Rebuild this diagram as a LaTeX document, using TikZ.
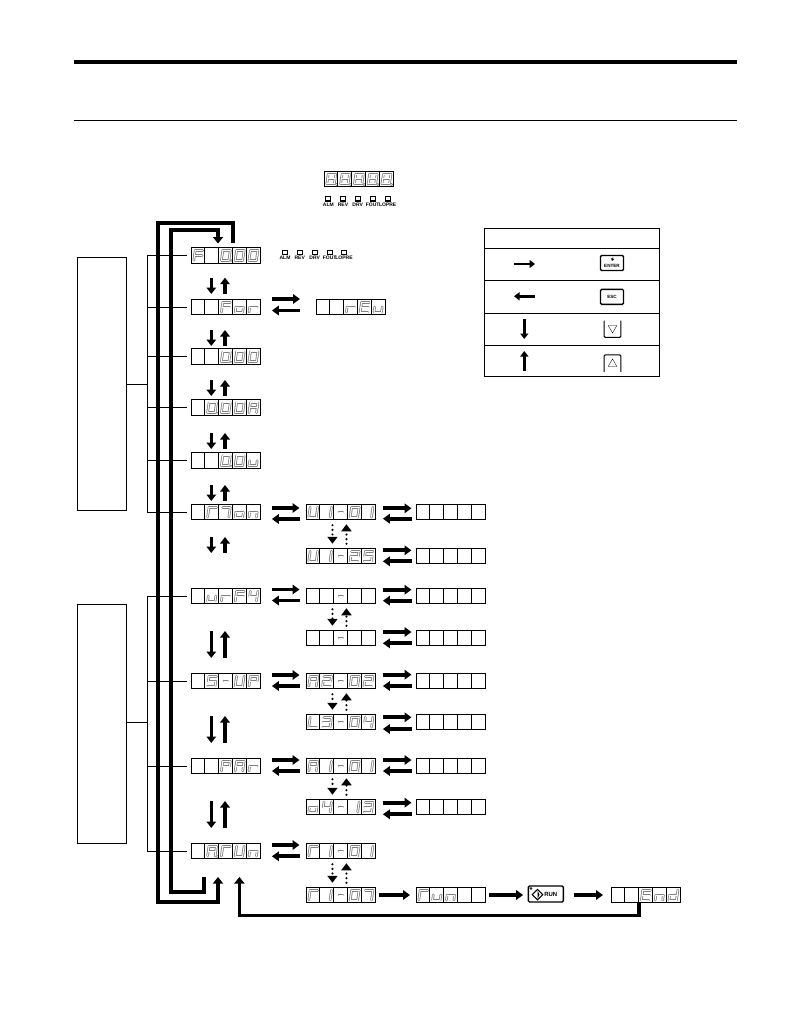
\documentclass[tikz,border=0pt]{standalone}
\usepackage{fontspec}
\setmainfont{Liberation Sans}
\usetikzlibrary{arrows.meta}
\usetikzlibrary{shapes,positioning}
\definecolor{seg-gray}{HTML}{808080}

\tikzset{
  dispbox/.style={draw, line width=0.9pt, minimum width=69pt, minimum height=15.6pt, inner sep=0pt},
  keybox/.style={draw, line width=1.4pt, rounded corners=1.2pt, inner sep=0pt},
  sidebox/.style={draw, line width=0.8pt},
  brace/.style={line width=0.8pt},
  flow/.style={line width=3.7pt, -{Triangle[length=7pt,width=9.5pt]}},
  updown/.style={line width=3.4pt, -{Triangle[length=6.5pt,width=9.5pt]}},
  tabflow/.style={line width=2.7pt, -{Triangle[length=5.5pt,width=8pt]}},
  dotflow/.style={line width=2.4pt, line cap=round, dash pattern=on 0pt off 4.6pt, -{Triangle[length=7pt,width=10pt]}},
  loopline/.style={line width=3.8pt},
  segouter/.style={seg-gray, line width=2.6pt, line cap=round, line join=round},
  seginner/.style={white, line width=1pt, line cap=round, line join=round},
  ledbox/.style={draw, line width=1.2pt, minimum width=5pt, minimum height=4.6pt, inner sep=0pt},
  ledtext/.style={inner sep=0pt, font=\fontsize{5}{5}\selectfont\bfseries}
}

% segments of one cell
\def\sega{(4.2,3)--(11.7,3)}
\def\segb{(11.7,3)--(11,7.8)}
\def\segc{(11,7.8)--(10.3,12.8)}
\def\segd{(2.8,12.8)--(10.3,12.8)}
\def\sege{(3.5,7.8)--(2.8,12.8)}
\def\segf{(4.2,3)--(3.5,7.8)}
\def\segg{(3.5,7.8)--(11,7.8)}
\def\segh{(5.2,7.8)--(9,7.8)}
\def\segp{(12.4,13.2)--(12.5,13.2)}
\def\segz{(0,0)}

\newcommand{\defglyph}[2]{\expandafter\def\csname glyph#1\endcsname{#2}}
\defglyph{x}{z}
\defglyph{0}{a,b,c,d,e,f}
\defglyph{0d}{a,b,c,d,e,f,p}
\defglyph{1}{b,c}
\defglyph{2}{a,b,g,e,d}
\defglyph{3}{a,b,g,c,d}
\defglyph{4}{f,g,b,c}
\defglyph{5}{a,f,g,c,d}
\defglyph{7}{a,b,c}
\defglyph{8d}{a,b,c,d,e,f,g,p}
\defglyph{A}{a,b,c,e,f,g}
\defglyph{Ad}{a,b,c,e,f,g,p}
\defglyph{C}{a,f,e}
\defglyph{E}{a,f,g,e,d}
\defglyph{F}{a,f,g,e}
\defglyph{L}{f,e,d}
\defglyph{P}{a,b,f,g,e}
\defglyph{U}{b,c,d,e,f}
\defglyph{d}{b,c,d,e,g}
\defglyph{n}{e,g,c}
\defglyph{o}{e,g,c,d}
\defglyph{r}{e,g}
\defglyph{u}{e,d,c}
\defglyph{m}{a,b,c}
\defglyph{h}{h}

% name, left edge, centre line, five glyphs
\newcommand{\dispunit}[4]{
  \begin{scope}[shift={(#2,#3-7.8)}]
  \foreach \st in {segouter,seginner}
    \foreach \c [count=\k from 0] in {#4} {
      \edef\seglist{\csname glyph\c\endcsname}
      \foreach \s in \seglist {
        \edef\segpath{\csname seg\s\endcsname}
        \draw [\st, shift={(13.8*\k,0)}] \segpath;
      }
    }
  \end{scope}
  \node [dispbox, anchor=west] (#1) at (#2,#3) {};
  \foreach \k in {1,...,4}
    \draw [line width=0.9pt] ([xshift=\k*13.8pt]#1.north west) -- ([xshift=\k*13.8pt]#1.south west);
}

% arrow pair between two nodes, offsets of the upper and the lower arrow
\newcommand{\swap}[6]{
  \draw [flow] ([xshift=#3pt,yshift=#5pt]#1.east) -- ([xshift=-#4pt,yshift=#5pt]#2.west);
  \draw [flow] ([xshift=-#4pt,yshift=-#6pt]#2.west) -- ([xshift=#3pt,yshift=-#6pt]#1.east);
}

\newcommand{\dotswap}[2]{
  \draw [dotflow] ([xshift=-8.5pt,yshift=-5pt]#1.south) -- ([xshift=-8.5pt,yshift=4pt]#2.north);
  \draw [dotflow] ([xshift=5.5pt,yshift=4pt]#2.north) -- ([xshift=5.5pt,yshift=-4pt]#1.south);
}

\begin{document}
\begin{tikzpicture}[x=1pt,y=-1pt]
\useasboundingbox (0,0) rectangle (794,1032);

\draw [line width=4pt] (74,62) -- (737,62);
\draw [line width=1.2pt] (74,120.4) -- (737,120.4);

\dispunit{dtop}{324}{179}{8d,8d,8d,8d,8d}
\foreach \t/\xx [count=\n] in {ALM/328.3,REV/343,DRV/357.7,FOUT/372.7,LOPRE/387.7} {
  \node [ledbox] (ledtop\n) at (\xx,198.8) {};
  \node [ledtext, below=1pt of ledtop\n] (lbltop\n) {\t};
}

% main column
\dispunit{dref}{191}{255.3}{F,x,0d,0,0}
\dispunit{dfor}{191}{307}{x,x,F,o,r}
\dispunit{dcur}{191}{356.7}{x,x,0d,0,0}
\dispunit{damp}{191}{407.7}{x,0d,0,0,A}
\dispunit{dvol}{191}{460.7}{x,x,0d,0,u}
\dispunit{dmon}{191}{512}{x,C,m,o,n}
\dispunit{dver}{191}{596}{x,u,r,F,4}
\dispunit{dset}{191}{681}{x,5,h,U,P}
\dispunit{dpar}{191}{766}{x,x,P,A,r}
\dispunit{dtun}{191}{851}{x,Ad,C,U,n}

\foreach \t/\xx [count=\n] in {ALM/285,REV/299.7,DRV/314.7,FOUT/329.7,LOPRE/344} {
  \node [ledbox] (led\n) at (\xx,252.4) {};
  \node [ledtext, below=1pt of led\n] (lbl\n) {\t};
}

% second column
\dispunit{drev}{316}{307}{x,x,r,E,u}
\dispunit{dua}{306}{512}{U,1,h,0,1}
\dispunit{dub}{306}{556}{U,1,h,2,5}
\dispunit{dva}{306}{596}{x,x,h,x,x}
\dispunit{dvb}{306}{638}{x,x,h,x,x}
\dispunit{dsa}{306}{681}{A,2,h,0,2}
\dispunit{dsb}{306}{722}{L,3,h,0,4}
\dispunit{dpa}{306}{766}{A,1,h,0,1}
\dispunit{dpb}{306}{807}{o,4,h,1,3}
\dispunit{dta}{306}{851}{C,1,h,0,1}
\dispunit{dtb}{306}{895}{C,1,h,0,7}

% value column
\dispunit{vua}{416}{512}{x,x,x,x,x}
\dispunit{vub}{416}{556}{x,x,x,x,x}
\dispunit{vva}{416}{596}{x,x,x,x,x}
\dispunit{vvb}{416}{638}{x,x,x,x,x}
\dispunit{vsa}{416}{681}{x,x,x,x,x}
\dispunit{vsb}{416}{722}{x,x,x,x,x}
\dispunit{vpa}{416}{766}{x,x,x,x,x}
\dispunit{vpb}{416}{807}{x,x,x,x,x}

% run row
\dispunit{vrun}{416}{895}{C,u,n,x,x}
\node [keybox, minimum width=35pt, minimum height=16pt] (krun) at (545.8,894) {};
\node [draw, diamond, line width=1.1pt, minimum size=11pt, inner sep=0pt, fill=white] (krund) at (537.5,894.6) {};
\fill (537.5,890.5) -- (539.5,894.6) -- (537.5,898.8) -- cycle;
\node [inner sep=0pt, font=\fontsize{6}{6}\selectfont\bfseries, right=0.5pt of krund] (lblrun) {RUN};
\node [draw, circle, line width=0.4pt, minimum size=2pt, inner sep=0pt] (krunc) at (531,888.5) {};
\dispunit{dend}{611}{895}{x,x,E,n,d}

% side boxes
\node [sidebox, minimum width=49pt, minimum height=253pt, inner sep=0pt] (boxa) at (102,383.5) {};
\node [sidebox, minimum width=49pt, minimum height=239pt, inner sep=0pt] (boxb) at (102,723.5) {};
\coordinate (bra) at (147.3,384);
\coordinate (brb) at (147.3,722);
\draw [brace] (boxa.east |- bra) -- (bra);
\draw [brace] (boxb.east |- brb) -- (brb);
\draw [brace] (147.3,255.3) -- (147.3,512);
\draw [brace] (147.3,596) -- (147.3,851);
\foreach \d in {dref,dfor,dcur,damp,dvol,dmon,dver,dset,dpar,dtun}
  \draw [brace] (147.3,0 |- \d.west) -- ([xshift=-4.5pt]\d.west);

% vertical pairs
\foreach \ya/\yb in {277.7/294,330/346,380/396,433/449,485/501,537/553,631/658,716/743,801/828} {
  \draw [updown] (211.3,\ya) -- (211.3,\yb);
  \draw [updown] (225,\yb) -- (225,\ya);
}

% horizontal pairs
\swap{dfor}{drev}{11}{16}{8}{3.5}
\swap{dmon}{dua}{11}{6.5}{4}{7}
\swap{dver}{dva}{11}{6.5}{6.5}{4.5}
\swap{dset}{dsa}{11}{6.5}{6}{5}
\swap{dpar}{dpa}{11}{6.5}{6}{5}
\swap{dtun}{dta}{11}{6.5}{6}{5.3}
\swap{dua}{vua}{7}{4.5}{3.7}{6.7}
\swap{dub}{vub}{7}{4.5}{5.7}{5.3}
\swap{dva}{vva}{7}{4.5}{6.3}{4.7}
\swap{dvb}{vvb}{7}{4.5}{6}{5.3}
\swap{dsa}{vsa}{7}{4.5}{6.3}{5}
\swap{dsb}{vsb}{7}{4.5}{4.7}{7}
\swap{dpa}{vpa}{7}{4.5}{6}{5}
\swap{dpb}{vpb}{7}{4.5}{4.3}{7.3}

\dotswap{dua}{dub}
\dotswap{dva}{dvb}
\dotswap{dsa}{dsb}
\dotswap{dpa}{dpb}
\dotswap{dta}{dtb}

% run row arrows
\draw [flow] ([xshift=3.5pt]dtb.east) -- ([xshift=-6pt]vrun.west);
\draw [flow] ([xshift=3pt]vrun.east) -- ([xshift=-4.5pt]krun.west |- vrun.west);
\draw [flow] ([xshift=9.5pt]krun.east |- dend.west) -- ([xshift=-8pt]dend.west);

% long return lines
\coordinate (rtnA) at (232.7,243);
\coordinate (rtnB) at (204,876.5);
\draw [loopline, -{Triangle[length=6.5pt,width=10pt]}] (rtnA) |- (158,222.8) |- (218,901.6) -- (218,877);
\draw [loopline, -{Triangle[length=6.5pt,width=10pt]}] (rtnB) |- (171,891.6) |- (218,230.4) -- (218,243.5);
\draw [line width=3.2pt, -{Triangle[length=6.5pt,width=10pt]}] ([xshift=-7pt]dend.south) |- (239.4,915.3) -- (239.4,877);

% key table
\draw [line width=0.9pt] (484.3,228.3) rectangle (659.3,376.3);
\foreach \yy in {248.3,280.3,313.3,345.3}
  \draw [line width=0.9pt] (484.3,\yy) -- (659.3,\yy);
\coordinate (tra) at (514,264);
\coordinate (trb) at (535,264);
\coordinate (tla) at (535,296.3);
\coordinate (tlb) at (514,296.3);
\coordinate (tda) at (524.3,319);
\coordinate (tdb) at (524.3,339);
\coordinate (tua) at (524.3,371);
\coordinate (tub) at (524.3,351);
\draw [tabflow] (tra) -- (trb);
\draw [tabflow] (tla) -- (tlb);
\draw [tabflow] (tda) -- (tdb);
\draw [tabflow] (tua) -- (tub);

\node [keybox, minimum width=23pt, minimum height=15pt] (kent) at (612,263) {};
\node [inner sep=0pt, font=\fontsize{4.6}{5}\selectfont\bfseries] (lblent) at (612,265.8) {ENTER};
\draw [line width=0.8pt, -{Triangle[length=2.4pt,width=3pt]}] (613,257.6) -- (612,261);
\node [keybox, minimum width=23pt, minimum height=15pt] (kesc) at (612,296.8) {};
\node [inner sep=0pt, font=\fontsize{4.6}{5}\selectfont\bfseries] (lblesc) at (612,296.8) {ESC};

\node [minimum width=16.4pt, minimum height=16.5pt, inner sep=0pt] (kdown) at (612.5,329) {};
\draw [line width=1pt, rounded corners=1.2pt] (kdown.north west) -- (kdown.south west) -- (kdown.south east) -- (kdown.north east);
\node [draw, regular polygon, regular polygon sides=3, shape border rotate=180, line width=0.35pt, minimum size=10pt, inner sep=0pt] (tridown) at (612.5,328) {};
\node [minimum width=16.4pt, minimum height=16.5pt, inner sep=0pt] (kup) at (612.5,363.3) {};
\draw [line width=1pt, rounded corners=1.2pt] (kup.south west) -- (kup.north west) -- (kup.north east) -- (kup.south east);
\node [draw, regular polygon, regular polygon sides=3, line width=0.35pt, minimum size=10pt, inner sep=0pt] (triup) at (612.5,364) {};
\end{tikzpicture}
\end{document}
